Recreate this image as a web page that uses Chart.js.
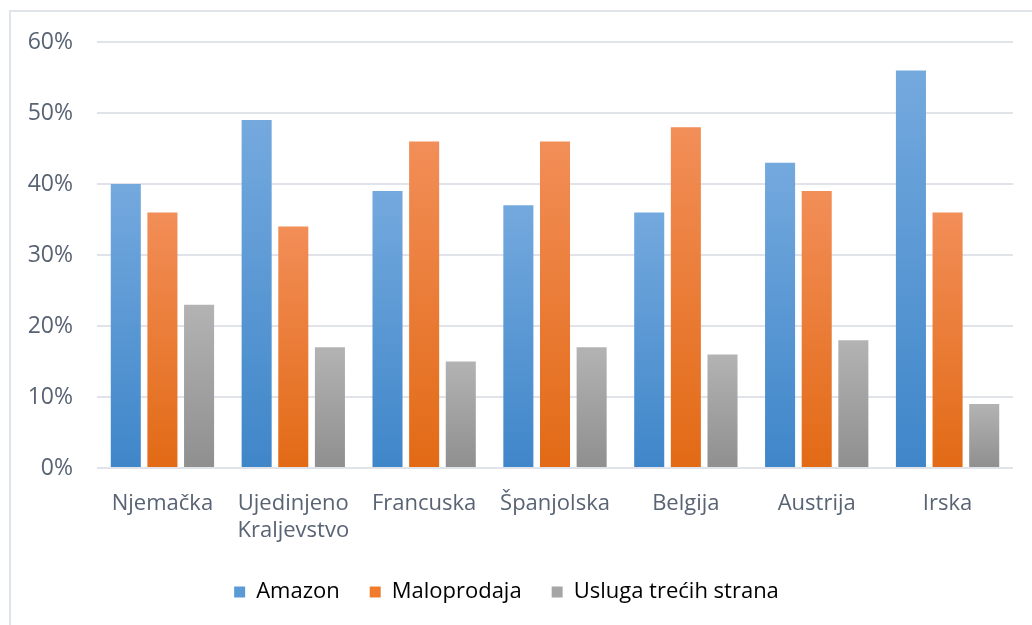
<!DOCTYPE html>
<html>
<head>
<meta charset="utf-8">
<script src="https://cdn.jsdelivr.net/npm/chart.js@4/dist/chart.umd.min.js"></script>
<style>
	html, body { margin: 0; padding: 0; background: #fff; overflow: hidden; }
	#frame {
		position: absolute; left: 9px; top: 10px; width: 1100px; height: 700px;
		border: 2px solid #dfe3ea; box-sizing: border-box;
	}
	#wrap { position: absolute; left: 0; top: 0; width: 1032px; height: 625px; }
</style>
</head>
<body>
<div id="frame"></div>
<div id="wrap"><canvas id="chart"></canvas></div>
<script>
(() => {
	'use strict'

	// Chart data
	const categories = ['Njemačka', ['Ujedinjeno', 'Kraljevstvo'], 'Francuska', 'Španjolska', 'Belgija', 'Austrija', 'Irska'];
	const amazon = [40, 49, 39, 37, 36, 43, 56];
	const maloprodaja = [36, 34, 46, 46, 48, 39, 36];
	const usluga = [23, 17, 15, 17, 16, 18, 9];
	const yTicks = [0, 10, 20, 30, 40, 50, 60];

	// Colors: [top, bottom, legend]
	const blue = ['#74a9de', '#3f86c9', '#5b9bd5'];
	const orange = ['#f28e58', '#e26a15', '#f07c2b'];
	const gray = ['#b3b3b3', '#8f8f8f', '#a5a5a5'];
	const textColor = '#586374';
	const gridColor = '#e0e3ea';

	// Vertical gradient for each bar, from its top down to zero
	function barGradient(colors) {
		return (ctx) => {
			const chart = ctx.chart;
			if (!chart.chartArea || ctx.type !== 'data') {
				return colors[2];
			}
			const y = chart.scales.y;
			const top = y.getPixelForValue(ctx.raw);
			const bottom = y.getPixelForValue(0);
			const g = chart.ctx.createLinearGradient(0, top, 0, bottom);
			g.addColorStop(0, colors[0]);
			g.addColorStop(1, colors[1]);
			return g;
		};
	}

	function makeSet(label, data, colors) {
		return {
			label: label,
			data: data,
			backgroundColor: barGradient(colors),
			legendColor: colors[2],
			borderWidth: 0,
			categoryPercentage: 0.84,
			barPercentage: 0.82,
		};
	}

	const font = { family: '"Open Sans", "Noto Sans", sans-serif', size: 22 };

	const config = {
		type: 'bar',
		data: {
			labels: categories,
			datasets: [
				makeSet('Amazon', amazon, blue),
				makeSet('Maloprodaja', maloprodaja, orange),
				makeSet('Usluga trećih strana', usluga, gray),
			]
		},
		options: {
			responsive: true,
			maintainAspectRatio: false,
			animation: false,
			layout: {
				padding: { left: 0, right: 19, top: 42, bottom: 12 }
			},
			scales: {
				x: {
					grid: { display: false },
					border: { display: false },
					ticks: {
						color: textColor,
						font: font,
						padding: 15,
						maxRotation: 0,
						autoSkip: false,
					},
					afterFit: (scale) => { scale.height = 83; }
				},
				y: {
					min: 0,
					max: 60,
					afterBuildTicks: (scale) => {
						scale.ticks = yTicks.map(v => ({ value: v }));
					},
					grid: {
						color: gridColor,
						lineWidth: 2,
						drawTicks: false,
					},
					border: { display: false },
					ticks: {
						color: textColor,
						font: { family: font.family, size: 23 },
						padding: 24,
						callback: (v) => v + '%',
					},
					afterFit: (scale) => { scale.width = 97; }
				}
			},
			plugins: {
				legend: {
					position: 'bottom',
					labels: {
						color: textColor,
						font: font,
						boxWidth: 11,
						boxHeight: 11,
						padding: 30,
						generateLabels: (chart) => chart.data.datasets.map((ds, i) => ({
							text: ds.label,
							fillStyle: ds.legendColor,
							strokeStyle: ds.legendColor,
							lineWidth: 0,
							datasetIndex: i,
						}))
					}
				},
				title: { display: false },
				tooltip: { enabled: false }
			}
		}
	};

	new Chart(document.getElementById('chart'), config);
})()
</script>
</body>
</html>
